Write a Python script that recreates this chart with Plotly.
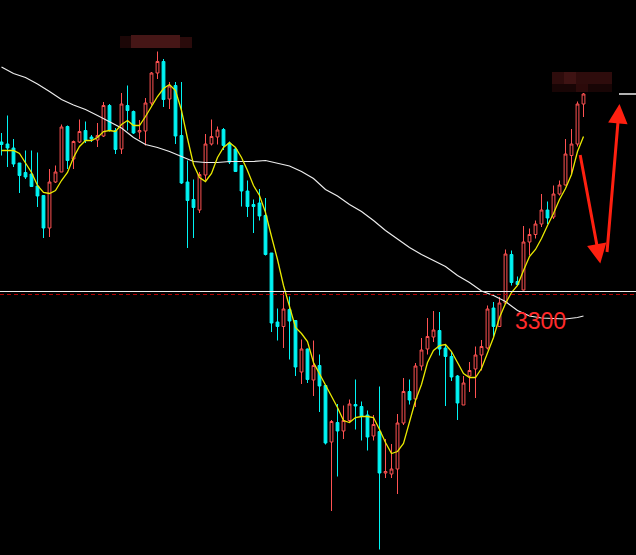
import plotly.graph_objects as go

# ---------------- data ----------------
opens = [3599, 3595, 3587, 3557, 3538, 3535, 3511, 3492, 3427, 3519,
         3539, 3630, 3565, 3599, 3622, 3609, 3603, 3611, 3672, 3622,
         3585, 3672, 3660, 3619, 3621, 3677, 3737, 3760, 3685, 3712,
         3612, 3519, 3484, 3463, 3533, 3595, 3609, 3624, 3597, 3585,
         3552, 3501, 3474, 3477, 3452, 3377, 3239, 3230, 3264, 3242,
         3139, 3185, 3123, 3152, 3112, 2999, 3038, 3021, 3042, 3074,
         3070, 3053, 3011, 3020, 2937, 2935, 2945, 3037, 3100, 3085,
         3151, 3185, 3209, 3222, 3187, 3170, 3131, 3073, 3131, 3145,
         3173, 3187, 3267, 3230, 3277, 3374, 3320, 3303, 3399, 3414,
         3435, 3463, 3449, 3495, 3513, 3572, 3595, 3675]
highs = [3617, 3652, 3605, 3557, 3582, 3582, 3578, 3492, 3545, 3552,
         3634, 3632, 3602, 3644, 3640, 3613, 3637, 3679, 3675, 3627,
         3697, 3712, 3662, 3643, 3687, 3739, 3780, 3765, 3719, 3719,
         3719, 3562, 3524, 3539, 3615, 3644, 3630, 3627, 3600, 3588,
         3552, 3522, 3484, 3505, 3487, 3377, 3266, 3299, 3290, 3242,
         3204, 3186, 3202, 3174, 3112, 3043, 3075, 3072, 3084, 3124,
         3080, 3062, 3053, 3110, 3005, 2995, 3055, 3127, 3124, 3157,
         3207, 3247, 3261, 3259, 3195, 3179, 3133, 3131, 3159, 3190,
         3203, 3272, 3279, 3289, 3384, 3382, 3330, 3431, 3426, 3442,
         3495, 3480, 3512, 3522, 3605, 3625, 3680, 3697]
lows = [3572, 3549, 3549, 3497, 3525, 3509, 3469, 3407, 3409, 3517,
        3539, 3545, 3545, 3597, 3597, 3599, 3589, 3609, 3620, 3575,
        3575, 3622, 3615, 3605, 3592, 3672, 3725, 3669, 3665, 3595,
        3515, 3387, 3407, 3457, 3522, 3592, 3594, 3583, 3555, 3539,
        3470, 3449, 3417, 3442, 3372, 3219, 3202, 3187, 3164, 3131,
        3115, 3117, 3091, 3059, 2994, 2861, 2930, 3005, 3039, 3024,
        3002, 2982, 3002, 2784, 2927, 2927, 2895, 3033, 3074, 3069,
        3142, 3174, 3199, 3172, 3071, 3121, 3043, 3073, 3099, 3087,
        3142, 3184, 3210, 3229, 3275, 3312, 3312, 3302, 3372, 3406,
        3429, 3435, 3445, 3492, 3512, 3535, 3590, 3649]
closes = [3594, 3587, 3555, 3532, 3529, 3510, 3491, 3427, 3519, 3539,
          3629, 3562, 3600, 3620, 3602, 3605, 3612, 3672, 3622, 3584,
          3675, 3662, 3617, 3622, 3677, 3737, 3760, 3684, 3711, 3611,
          3517, 3482, 3468, 3534, 3595, 3610, 3623, 3592, 3559, 3540,
          3501, 3470, 3470, 3451, 3374, 3237, 3230, 3265, 3241, 3149,
          3185, 3124, 3152, 3111, 2997, 3040, 3021, 3042, 3075, 3071,
          3051, 3009, 3034, 2937, 2940, 2945, 3037, 3100, 3083, 3151,
          3183, 3210, 3223, 3185, 3170, 3129, 3077, 3117, 3142, 3173,
          3190, 3265, 3230, 3277, 3375, 3318, 3314, 3399, 3414, 3435,
          3463, 3447, 3495, 3513, 3575, 3595, 3675, 3695]

# short moving average (yellow), one value per candle
ma_short = [3582, 3582, 3582, 3576, 3558, 3538, 3512, 3498, 3496, 3502,
            3522, 3538, 3568, 3590, 3602, 3602, 3608, 3620, 3622, 3620,
            3634, 3642, 3632, 3632, 3650, 3670, 3690, 3706, 3714, 3702,
            3662, 3606, 3554, 3528, 3520, 3536, 3568, 3588, 3598, 3588,
            3568, 3542, 3512, 3492, 3458, 3410, 3364, 3312, 3270, 3228,
            3216, 3200, 3158, 3136, 3114, 3090, 3068, 3042, 3038, 3048,
            3050, 3050, 3048, 3024, 2998, 2976, 2980, 2996, 3038, 3082,
            3114, 3158, 3182, 3192, 3194, 3180, 3158, 3136, 3128, 3128,
            3146, 3178, 3208, 3248, 3276, 3298, 3312, 3342, 3370, 3384,
            3406, 3432, 3456, 3484, 3506, 3534, 3580, 3610]

# long moving average (white), read at every second candle
ma_long_idx = [0, 2, 4, 6, 8, 10, 12, 14, 16, 18, 20, 22, 24, 26, 28, 30,
               32, 34, 36, 38, 40, 42, 44, 46, 48, 50, 52, 54, 56, 58, 60,
               62, 64, 66, 68, 70, 72, 74, 76, 78, 80, 82, 84, 86, 88, 90,
               92, 94, 96, 97]
ma_long = [3749, 3736, 3728, 3715, 3700, 3684, 3673, 3664, 3652, 3640,
           3627, 3608, 3594, 3588, 3580, 3570, 3560, 3558, 3558, 3560,
           3560, 3560, 3562, 3556, 3551, 3540, 3526, 3504, 3491, 3474,
           3460, 3442, 3422, 3405, 3388, 3374, 3362, 3350, 3332, 3318,
           3301, 3292, 3280, 3262, 3251, 3247, 3246, 3245, 3248, 3251]

level_price = 3300
level_label = "3300"
dashed_price = 3294

idx = list(range(len(opens)))

# ---------------- figure ----------------
fig = go.Figure()

fig.add_trace(go.Scatter(x=ma_long_idx, y=ma_long, mode="lines",
                         line=dict(color="#ececec", width=1.2),
                         hoverinfo="skip", showlegend=False))

fig.add_trace(go.Candlestick(
    x=idx, open=opens, high=highs, low=lows, close=closes,
    increasing=dict(line=dict(color="#ff5252", width=1), fillcolor="#000000"),
    decreasing=dict(line=dict(color="#00f4f4", width=1), fillcolor="#00f4f4"),
    whiskerwidth=0, showlegend=False))

fig.add_trace(go.Scatter(x=idx, y=ma_short, mode="lines",
                         line=dict(color="#eaea00", width=1.3),
                         hoverinfo="skip", showlegend=False))

shapes = [
    dict(type="line", xref="paper", x0=0, x1=1, yref="y",
         y0=dashed_price, y1=dashed_price,
         line=dict(color="#b40000", width=1, dash="4px,3px")),
    dict(type="line", xref="paper", x0=0, x1=1, yref="y",
         y0=level_price, y1=level_price,
         line=dict(color="#ececec", width=1)),
    dict(type="line", xref="paper", x0=619 / 636, x1=1, yref="y",
         y0=closes[-1], y1=closes[-1],
         line=dict(color="#ececec", width=1.5)),
    # pixelated (blurred) labels
    dict(type="rect", xref="paper", yref="paper", x0=120 / 636, x1=131 / 636,
         y0=1 - 48 / 555, y1=1 - 36 / 555, fillcolor="#1c0707", line_width=0),
    dict(type="rect", xref="paper", yref="paper", x0=131 / 636, x1=180 / 636,
         y0=1 - 48 / 555, y1=1 - 35 / 555, fillcolor="#451616", line_width=0),
    dict(type="rect", xref="paper", yref="paper", x0=180 / 636, x1=192 / 636,
         y0=1 - 48 / 555, y1=1 - 37 / 555, fillcolor="#2a0b0b", line_width=0),
    dict(type="rect", xref="paper", yref="paper", x0=552 / 636, x1=612 / 636,
         y0=1 - 84 / 555, y1=1 - 72 / 555, fillcolor="#2e0c0c", line_width=0),
    dict(type="rect", xref="paper", yref="paper", x0=564 / 636, x1=576 / 636,
         y0=1 - 84 / 555, y1=1 - 72 / 555, fillcolor="#3e1313", line_width=0),
    dict(type="rect", xref="paper", yref="paper", x0=552 / 636, x1=612 / 636,
         y0=1 - 92 / 555, y1=1 - 84 / 555, fillcolor="#180505", line_width=0),
    dict(type="rect", xref="paper", yref="paper", x0=576 / 636, x1=588 / 636,
         y0=1 - 92 / 555, y1=1 - 84 / 555, fillcolor="#2c0a0a", line_width=0),
]

annotations = [
    dict(x=89.8, y=3242, xref="x", yref="y", text=level_label, showarrow=False,
         font=dict(family="Liberation Sans, Arial", size=23, color="#ff2a2a")),
    dict(x=99.8, y=3356, ax=96.4, ay=3576, xref="x", yref="y", axref="x", ayref="y",
         text="", showarrow=True, arrowhead=2, arrowsize=1.3, arrowwidth=3,
         arrowcolor="#ff2010"),
    dict(x=103.0, y=3675, ax=100.9, ay=3376, xref="x", yref="y", axref="x", ayref="y",
         text="", showarrow=True, arrowhead=2, arrowsize=1.3, arrowwidth=3,
         arrowcolor="#ff2010"),
    dict(x=1, y=1 - 552 / 555, xref="paper", yref="paper", xanchor="right",
         yanchor="top", text="2021/09/10", showarrow=False,
         font=dict(family="DejaVu Sans Mono", size=11, color="#e6e600")),
]

fig.update_layout(
    width=636, height=555,
    margin=dict(l=0, r=0, t=0, b=0),
    paper_bgcolor="#000000", plot_bgcolor="#000000",
    shapes=shapes, annotations=annotations,
    showlegend=False, boxgap=1 / 3,
    xaxis=dict(range=[-1.5 / 6, (636 - 1.5) / 6], visible=False,
               rangeslider=dict(visible=False), fixedrange=True),
    yaxis=dict(range=[2773, 3883], visible=False, fixedrange=True),
)

fig.write_html(
    "out.html",
    config={"displayModeBar": False},
    post_script="document.body.style.margin='0';document.body.style.background='#000';",
)
